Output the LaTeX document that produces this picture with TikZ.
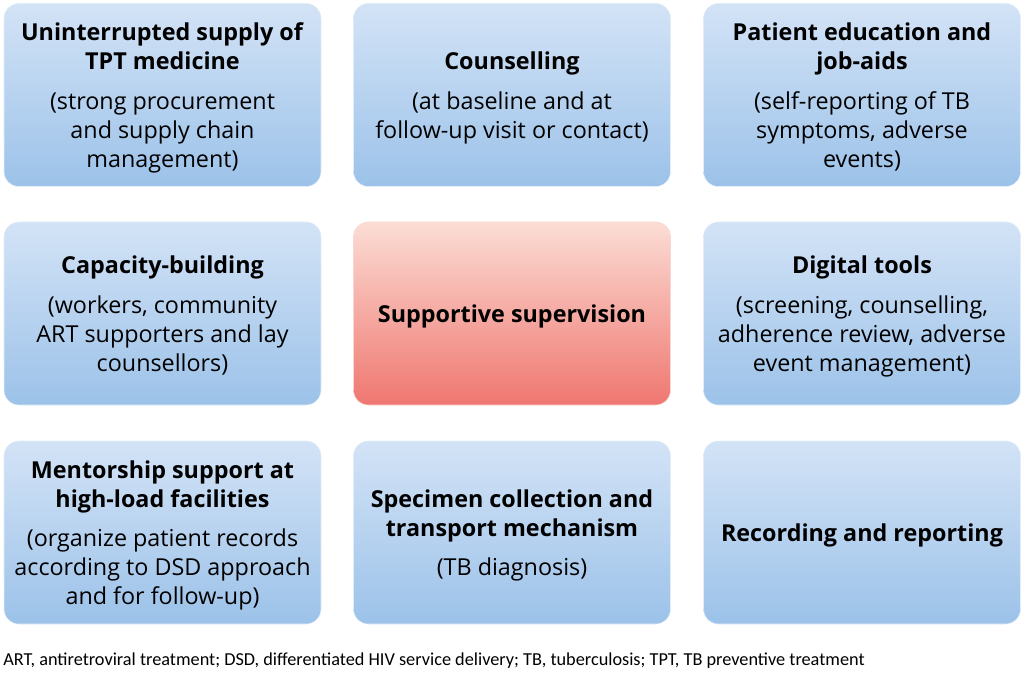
\documentclass[tikz,border=0pt]{standalone}
\usepackage{fontspec}
\setmainfont{Open Sans}
\newfontfamily\notefont{Carlito}

\definecolor{cardtop}{HTML}{D3E3F6}
\definecolor{cardbot}{HTML}{9CC2E9}
\definecolor{hubtop}{HTML}{FBDDD5}
\definecolor{hubbot}{HTML}{EF7770}

\tikzset{
  card/.style={rectangle, rounded corners=11.25pt, minimum width=237.75pt,
    minimum height=137.25pt, inner sep=0pt, align=center, text depth=0pt,
    top color=cardtop, bottom color=cardbot, draw=white!70!cardbot, line width=0.4pt,
    font=\fontsize{17.5}{21.75}\selectfont},
  hub/.style={card, top color=hubtop, bottom color=hubbot, draw=white!70!hubbot}
}
\newcommand{\hd}[1]{\textbf{#1}}

\begin{document}
\begin{tikzpicture}[x=0.75pt, y=-0.75pt]
  \useasboundingbox (0,0) rectangle (1024,673);

  % top row
  \node[card] (supply) at (162.5,95)
    {\hd{Uninterrupted supply of}\\\hd{TPT medicine}\\[8pt](strong procurement\\and supply chain\\management)};
  \node[card] (counsel) at (512,95)
    {\hd{Counselling}\\[8pt](at baseline and at\\follow-up visit or contact)};
  \node[card] (educ) at (862,95)
    {\hd{Patient education and}\\\hd{job-aids}\\[8pt](self-reporting of TB\\symptoms, adverse\\events)};

  % middle row
  \node[card] (capacity) at (162.5,313.5)
    {\hd{Capacity-building}\\[8pt](workers, community\\ART supporters and lay\\counsellors)};
  \node[hub] (superv) at (512,313.5)
    {\hd{Supportive supervision}};
  \node[card] (digital) at (862,313.5)
    {\hd{Digital tools}\\[8pt](screening, counselling,\\adherence review, adverse\\event management)};

  % bottom row
  \node[card] (mentor) at (162.5,532.5)
    {\hd{Mentorship support at}\\\hd{high-load facilities}\\[8pt](organize patient records\\according to DSD approach\\and for follow-up)};
  \node[card] (specimen) at (512,532.5)
    {\hd{Specimen collection and}\\\hd{transport mechanism}\\[8pt](TB diagnosis)};
  \node[card] (record) at (862,532.5)
    {\hd{Recording and reporting}};

  % abbreviations
  \node[anchor=west, inner sep=0pt, font=\notefont\fontsize{13.7}{16}\selectfont] (abbr) at (3,661)
    {ART, antiretroviral treatment; DSD, differentiated HIV service delivery; TB, tuberculosis; TPT, TB preventive treatment};
\end{tikzpicture}
\end{document}
